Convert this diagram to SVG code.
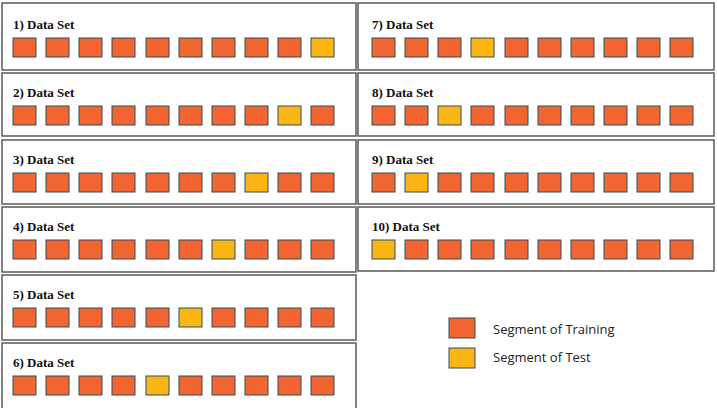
<svg xmlns="http://www.w3.org/2000/svg" width="717" height="408" viewBox="0 0 717 408">
<style>
.p{fill:#fff;stroke:#5a5a5a;stroke-width:1.5}
.t{font-family:"Liberation Serif",serif;font-weight:bold;font-size:13px;fill:#111}
.r{fill:#f26430;stroke:#2f4f5f;stroke-width:1}
.y{fill:#fbb615;stroke:#2f4f5f;stroke-width:1}
.l{font-family:"Open Sans",sans-serif;font-size:13px;fill:#222}
</style>
<rect width="717" height="408" fill="#fff"/>
<g id="legend">
<rect class="r" x="449" y="318" width="26" height="20"/>
<rect class="y" x="449" y="348" width="26" height="20"/>
<text class="l" x="493" y="334">Segment of Training</text>
<text class="l" x="493" y="362">Segment of Test</text>
</g>
<g id="set1"><rect class="p" x="2" y="3" width="354" height="67"/><text class="t" x="13" y="29">1) Data Set</text>
<g transform="translate(13,38)"><rect class="r" x="0" width="23" height="19"/><rect class="r" x="33" width="23" height="19"/><rect class="r" x="66" width="23" height="19"/><rect class="r" x="99" width="23" height="19"/><rect class="r" x="133" width="23" height="19"/><rect class="r" x="166" width="23" height="19"/><rect class="r" x="199" width="23" height="19"/><rect class="r" x="232" width="23" height="19"/><rect class="r" x="265" width="23" height="19"/><rect class="y" x="298" width="23" height="19"/></g></g>
<g id="set2"><rect class="p" x="2" y="73" width="354" height="63"/><text class="t" x="13" y="97">2) Data Set</text>
<g transform="translate(13,106)"><rect class="r" x="0" width="23" height="19"/><rect class="r" x="33" width="23" height="19"/><rect class="r" x="66" width="23" height="19"/><rect class="r" x="99" width="23" height="19"/><rect class="r" x="133" width="23" height="19"/><rect class="r" x="166" width="23" height="19"/><rect class="r" x="199" width="23" height="19"/><rect class="r" x="232" width="23" height="19"/><rect class="y" x="265" width="23" height="19"/><rect class="r" x="298" width="23" height="19"/></g></g>
<g id="set3"><rect class="p" x="2" y="140" width="354" height="64"/><text class="t" x="13" y="164">3) Data Set</text>
<g transform="translate(13,173)"><rect class="r" x="0" width="23" height="19"/><rect class="r" x="33" width="23" height="19"/><rect class="r" x="66" width="23" height="19"/><rect class="r" x="99" width="23" height="19"/><rect class="r" x="133" width="23" height="19"/><rect class="r" x="166" width="23" height="19"/><rect class="r" x="199" width="23" height="19"/><rect class="y" x="232" width="23" height="19"/><rect class="r" x="265" width="23" height="19"/><rect class="r" x="298" width="23" height="19"/></g></g>
<g id="set4"><rect class="p" x="2" y="207" width="354" height="65"/><text class="t" x="13" y="231">4) Data Set</text>
<g transform="translate(13,240)"><rect class="r" x="0" width="23" height="19"/><rect class="r" x="33" width="23" height="19"/><rect class="r" x="66" width="23" height="19"/><rect class="r" x="99" width="23" height="19"/><rect class="r" x="133" width="23" height="19"/><rect class="r" x="166" width="23" height="19"/><rect class="y" x="199" width="23" height="19"/><rect class="r" x="232" width="23" height="19"/><rect class="r" x="265" width="23" height="19"/><rect class="r" x="298" width="23" height="19"/></g></g>
<g id="set5"><rect class="p" x="2" y="275" width="354" height="65"/><text class="t" x="13" y="299">5) Data Set</text>
<g transform="translate(13,308)"><rect class="r" x="0" width="23" height="19"/><rect class="r" x="33" width="23" height="19"/><rect class="r" x="66" width="23" height="19"/><rect class="r" x="99" width="23" height="19"/><rect class="r" x="133" width="23" height="19"/><rect class="y" x="166" width="23" height="19"/><rect class="r" x="199" width="23" height="19"/><rect class="r" x="232" width="23" height="19"/><rect class="r" x="265" width="23" height="19"/><rect class="r" x="298" width="23" height="19"/></g></g>
<g id="set6"><rect class="p" x="2" y="343" width="354" height="67"/><text class="t" x="13" y="367">6) Data Set</text>
<g transform="translate(13,376)"><rect class="r" x="0" width="23" height="19"/><rect class="r" x="33" width="23" height="19"/><rect class="r" x="66" width="23" height="19"/><rect class="r" x="99" width="23" height="19"/><rect class="y" x="133" width="23" height="19"/><rect class="r" x="166" width="23" height="19"/><rect class="r" x="199" width="23" height="19"/><rect class="r" x="232" width="23" height="19"/><rect class="r" x="265" width="23" height="19"/><rect class="r" x="298" width="23" height="19"/></g></g>
<g id="set7"><rect class="p" x="358" y="3" width="356" height="67"/><text class="t" x="372" y="29">7) Data Set</text>
<g transform="translate(372,38)"><rect class="r" x="0" width="23" height="19"/><rect class="r" x="33" width="23" height="19"/><rect class="r" x="66" width="23" height="19"/><rect class="y" x="99" width="23" height="19"/><rect class="r" x="133" width="23" height="19"/><rect class="r" x="166" width="23" height="19"/><rect class="r" x="199" width="23" height="19"/><rect class="r" x="232" width="23" height="19"/><rect class="r" x="265" width="23" height="19"/><rect class="r" x="298" width="23" height="19"/></g></g>
<g id="set8"><rect class="p" x="358" y="73" width="356" height="63"/><text class="t" x="372" y="97">8) Data Set</text>
<g transform="translate(372,106)"><rect class="r" x="0" width="23" height="19"/><rect class="r" x="33" width="23" height="19"/><rect class="y" x="66" width="23" height="19"/><rect class="r" x="99" width="23" height="19"/><rect class="r" x="133" width="23" height="19"/><rect class="r" x="166" width="23" height="19"/><rect class="r" x="199" width="23" height="19"/><rect class="r" x="232" width="23" height="19"/><rect class="r" x="265" width="23" height="19"/><rect class="r" x="298" width="23" height="19"/></g></g>
<g id="set9"><rect class="p" x="358" y="140" width="356" height="64"/><text class="t" x="372" y="164">9) Data Set</text>
<g transform="translate(372,173)"><rect class="r" x="0" width="23" height="19"/><rect class="y" x="33" width="23" height="19"/><rect class="r" x="66" width="23" height="19"/><rect class="r" x="99" width="23" height="19"/><rect class="r" x="133" width="23" height="19"/><rect class="r" x="166" width="23" height="19"/><rect class="r" x="199" width="23" height="19"/><rect class="r" x="232" width="23" height="19"/><rect class="r" x="265" width="23" height="19"/><rect class="r" x="298" width="23" height="19"/></g></g>
<g id="set10"><rect class="p" x="358" y="207" width="356" height="64"/><text class="t" x="372" y="231">10) Data Set</text>
<g transform="translate(372,240)"><rect class="y" x="0" width="23" height="19"/><rect class="r" x="33" width="23" height="19"/><rect class="r" x="66" width="23" height="19"/><rect class="r" x="99" width="23" height="19"/><rect class="r" x="133" width="23" height="19"/><rect class="r" x="166" width="23" height="19"/><rect class="r" x="199" width="23" height="19"/><rect class="r" x="232" width="23" height="19"/><rect class="r" x="265" width="23" height="19"/><rect class="r" x="298" width="23" height="19"/></g></g>
</svg>
